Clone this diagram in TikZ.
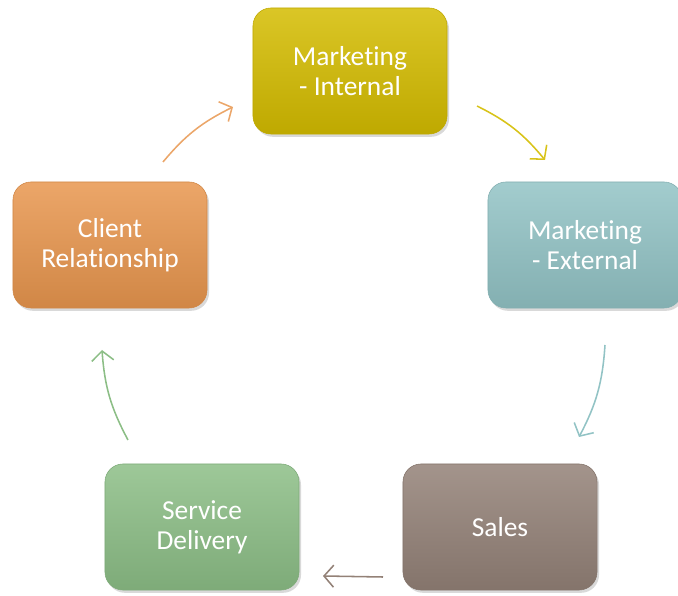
\documentclass[tikz,border=0pt]{standalone}
\usepackage{fontspec}
\setmainfont[Ligatures=NoCommon]{Carlito}
\usepackage{tikz}
\usetikzlibrary{positioning,arrows.meta,shadows}

\definecolor{mintcol}{HTML}{D4BC00}
\definecolor{mextcol}{HTML}{92C3C5}
\definecolor{salescol}{HTML}{938177}
\definecolor{servcol}{HTML}{8CBE86}
\definecolor{clientcol}{HTML}{E8964E}

\begin{document}
\begin{tikzpicture}[x=0.025cm, y=-0.025cm,
    stage/.style={rounded corners=0.45cm, minimum width=4.85cm, minimum height=3.15cm,
        align=center, text=white, font=\fontsize{19.5}{21.5}\selectfont,
        top color=#1!85!white, middle color=#1, bottom color=#1!90!black, draw=#1!90!black,
        drop shadow={opacity=0.3, shadow xshift=0.05cm, shadow yshift=-0.07cm}},
    flow/.style={line width=1.1pt, -{Straight Barb[length=2.4mm, width=5.5mm]}, bend left=12}]
    \useasboundingbox (0,0) rectangle (678,596);

    % the five stages, clockwise from the top
    \node [stage=mintcol] (MI) at (350,71) {Marketing\\- Internal};
    \node [stage=mextcol] (ME) at (585,245) {Marketing\\- External};
    \node [stage=salescol] (S) at (500,527) {Sales};
    \node [stage=servcol] (SD) at (202,527) {Service\\Delivery};
    \node [stage=clientcol] (CR) at (110,245) {Client\\Relationship};

    % arrow ends
    \coordinate (CRout) at (163,162);
    \coordinate (MIin) at (233,107);
    \coordinate (MIout) at (477,106);
    \coordinate (MEin) at (545,160);
    \coordinate (MEout) at (605,345);
    \coordinate (Sin) at (579,437);
    \coordinate (Sout) at (383,577);
    \coordinate (SDin) at (323,576);
    \coordinate (SDout) at (128,440);
    \coordinate (CRin) at (102,350);

    \draw [flow, clientcol!85!white] (CRout) to (MIin);
    \draw [flow, mintcol!90!white] (MIout) to (MEin);
    \draw [flow, mextcol] (MEout) to (Sin);
    \draw [flow, salescol, bend left=0] (Sout) to (SDin);
    \draw [flow, servcol] (SDout) to (CRin);
\end{tikzpicture}
\end{document}
